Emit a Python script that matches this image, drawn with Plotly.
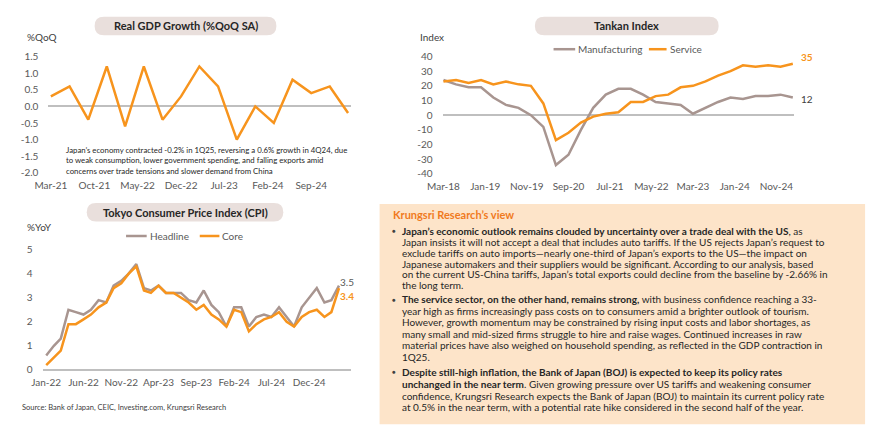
import plotly.graph_objects as go
import pandas as pd

# ---------------- data ----------------
gdp_dates = pd.date_range("2021-03-01", "2025-03-01", freq="3MS").strftime("%Y-%m-%d").tolist()
gdp_qoq = [0.3, 0.6, -0.4, 1.2, -0.6, 1.2, -0.4, 0.3, 1.2, 0.6, -1.0, 0.0, -0.5, 0.8, 0.4, 0.6, -0.2]
gdp_xticks = ["2021-03-01", "2021-10-01", "2022-05-01", "2022-12-01", "2023-07-01", "2024-02-01", "2024-09-01"]
gdp_yticks = [1.5, 1.0, 0.5, 0.0, -0.5, -1.0, -1.5, -2.0]
gdp_yticklabels = ["1.5", "1.0", "0.5", "0.0", "-0.5", "-1.0", "-1.5", "-2.0"]

tankan_dates = pd.date_range("2018-03-01", "2025-03-01", freq="3MS").strftime("%Y-%m-%d").tolist()
tankan_manufacturing = [24, 21, 19, 19, 12, 7, 5, 0, -8, -34, -27, -10, 5, 14, 18, 18, 14, 9, 8, 7,
                        1, 5, 9, 12, 11, 13, 13, 14, 12]
tankan_service = [23, 24, 22, 24, 21, 23, 21, 20, 8, -17, -12, -5, -1, 1, 2, 9, 9, 13, 14, 19,
                  20, 23, 27, 30, 34, 33, 34, 33, 35]
tankan_xticks = ["2018-03-01", "2019-01-01", "2019-11-01", "2020-09-01", "2021-07-01", "2022-05-01",
                 "2023-03-01", "2024-01-01", "2024-11-01"]
tankan_yticks = [40, 30, 20, 10, 0, -10, -20, -30, -40]
tankan_yticklabels = ["40", "30", "20", "10", "0", "-10", "-20", "-30", "-40"]

cpi_dates = pd.date_range("2022-01-01", "2025-04-01", freq="MS").strftime("%Y-%m-%d").tolist()
cpi_headline = [0.6, 1.0, 1.3, 2.5, 2.4, 2.3, 2.5, 2.9, 2.8, 3.5, 3.7, 4.0,
                4.4, 3.4, 3.3, 3.5, 3.2, 3.2, 3.2, 2.9, 2.8, 3.3, 2.7, 2.4,
                1.8, 2.6, 2.6, 1.8, 2.2, 2.3, 2.2, 2.6, 2.2, 1.8, 2.6, 3.0,
                3.4, 2.8, 2.9, 3.5]
cpi_core = [0.2, 0.5, 0.8, 1.9, 1.9, 2.1, 2.3, 2.6, 2.8, 3.4, 3.6, 4.0,
            4.3, 3.3, 3.2, 3.5, 3.2, 3.2, 3.0, 2.8, 2.5, 2.7, 2.3, 2.1,
            1.8, 2.5, 2.4, 1.6, 1.9, 2.1, 2.2, 2.4, 2.0, 1.8, 2.2, 2.4,
            2.5, 2.2, 2.4, 3.4]
cpi_xticks = ["2022-01-01", "2022-06-01", "2022-11-01", "2023-04-01", "2023-09-01", "2024-02-01",
              "2024-07-01", "2024-12-01"]
cpi_yticks = [0, 1, 2, 3, 4, 5]

gdp_note_lines = ["Japan’s economy contracted -0.2% in 1Q25, reversing a 0.6% growth in 4Q24, due",
                  "to weak consumption, lower government spending, and falling exports amid",
                  "concerns over trade tensions and slower demand from China"]
gdp_note_y = [147, 158, 169]

view_title = "Krungsri Research’s view"
view_bullets = [
    ["<b>Japan’s economic outlook remains clouded by uncertainty over a trade deal with the US</b>, as",
     "Japan insists it will not accept a deal that includes auto tariffs. If the US rejects Japan’s request to",
     "exclude tariffs on auto imports—nearly one-third of Japan’s exports to the US—the impact on",
     "Japanese automakers and their suppliers would be significant. According to our analysis, based",
     "on the current US-China tariffs, Japan’s total exports could decline from the baseline by -2.66% in",
     "the long term."],
    ["<b>The service sector, on the other hand, remains strong,</b> with business confidence reaching a 33-",
     "year high as firms increasingly pass costs on to consumers amid a brighter outlook of tourism.",
     "However, growth momentum may be constrained by rising input costs and labor shortages, as",
     "many small and mid-sized firms struggle to hire and raise wages. Continued increases in raw",
     "material prices have also weighed on household spending, as reflected in the GDP contraction in",
     "1Q25."],
    ["<b>Despite still-high inflation, the Bank of Japan (BOJ) is expected to keep its policy rates</b>",
     "<b>unchanged in the near term</b>. Given growing pressure over US tariffs and weakening consumer",
     "confidence, Krungsri Research expects the Bank of Japan (BOJ) to maintain its current policy rate",
     "at 0.5% in the near term, with a potential rate hike considered in the second half of the year."],
]
view_line_y = [[230.5, 242, 253.3, 264.5, 275.5, 286.5],
               [301, 312.8, 324.8, 336.6, 348.4, 360.4],
               [376, 388.2, 400.4, 412.4]]

source_text = "Source: Bank of Japan, CEIC, Investing.com, Krungsri Research"

# ---------------- style ----------------
W, H = 870, 438
FONT = "Lato"
ORANGE = "#f7941d"
GRAY = "#a89590"
TICK = "#595959"
DARK = "#262626"
PILL = "#e9dfdc"
BOX = "#fde4c9"


def px(x):
    return x / W


def py(y):
    return 1 - y / H


def pill_path(x0, y0, x1, y1):
    r = (y1 - y0) / 2
    return (f"M {px(x0 + r)},{py(y0)} L {px(x1 - r)},{py(y0)} "
            f"Q {px(x1)},{py(y0)} {px(x1)},{py(y0 + r)} "
            f"Q {px(x1)},{py(y1)} {px(x1 - r)},{py(y1)} "
            f"L {px(x0 + r)},{py(y1)} "
            f"Q {px(x0)},{py(y1)} {px(x0)},{py(y0 + r)} "
            f"Q {px(x0)},{py(y0)} {px(x0 + r)},{py(y0)} Z")


fig = go.Figure()

fig.add_trace(go.Scatter(x=gdp_dates, y=gdp_qoq, mode="lines", line=dict(color=ORANGE, width=2.5),
                         xaxis="x", yaxis="y", showlegend=False))
fig.add_trace(go.Scatter(x=tankan_dates, y=tankan_manufacturing, mode="lines", line=dict(color=GRAY, width=2.5),
                         xaxis="x2", yaxis="y2", showlegend=False))
fig.add_trace(go.Scatter(x=tankan_dates, y=tankan_service, mode="lines", line=dict(color=ORANGE, width=2.5),
                         xaxis="x2", yaxis="y2", showlegend=False))
fig.add_trace(go.Scatter(x=cpi_dates, y=cpi_headline, mode="lines", line=dict(color=GRAY, width=2.5),
                         xaxis="x3", yaxis="y3", showlegend=False))
fig.add_trace(go.Scatter(x=cpi_dates, y=cpi_core, mode="lines", line=dict(color=ORANGE, width=2.5),
                         xaxis="x3", yaxis="y3", showlegend=False))

tickfont = dict(family=FONT, size=10, color=TICK)
xcommon = dict(type="date", showgrid=False, showline=False, zeroline=False, tickformat="%b-%y",
               tickfont=tickfont, ticks="", ticklabelstandoff=5, fixedrange=True)
ycommon = dict(showgrid=False, showline=False, zeroline=True, zerolinecolor="#bfbfbf", zerolinewidth=1.5,
               tickfont=tickfont, ticks="", ticklabelstandoff=9, fixedrange=True)

fig.update_layout(
    width=W, height=H, margin=dict(l=0, r=0, t=0, b=0),
    paper_bgcolor="white", plot_bgcolor="rgba(0,0,0,0)",
    font=dict(family=FONT, color=DARK),
    xaxis=dict(xcommon, domain=[px(34), px(342)], range=["2021-02-17", "2025-03-16"],
               tickvals=gdp_xticks, anchor="y"),
    yaxis=dict(ycommon, domain=[py(171), py(51)], range=[-2.0, 1.5], tickvals=gdp_yticks,
               ticktext=gdp_yticklabels, anchor="x"),
    xaxis2=dict(xcommon, domain=[px(435), px(793)], range=["2018-02-22", "2025-03-12"],
                tickvals=tankan_xticks, anchor="y2"),
    yaxis2=dict(ycommon, domain=[py(172), py(51)], range=[-40, 40], tickvals=tankan_yticks,
                ticktext=tankan_yticklabels, anchor="x2"),
    xaxis3=dict(xcommon, domain=[px(28), px(342)], range=["2021-12-17", "2025-05-20"],
                tickvals=cpi_xticks, anchor="y3"),
    yaxis3=dict(ycommon, domain=[py(374), py(250)], range=[0, 5], tickvals=cpi_yticks, anchor="x3"),
)

shapes = []
annotations = []

# title pills
for (x0, y0, x1, y1, title) in [(81, 10, 266, 29, "Real GDP Growth (%QoQ SA)"),
                                (529, 10, 716, 29, "Tankan Index"),
                                (73, 202, 273, 221, "Tokyo Consumer Price Index (CPI)")]:
    shapes.append(dict(type="path", path=pill_path(x0, y0, x1, y1), xref="paper", yref="paper",
                       fillcolor=PILL, line=dict(width=0), layer="below"))
    annotations.append(dict(text=f"<b>{title}</b>", x=px((x0 + x1) / 2), y=py((y0 + y1) / 2),
                            xref="paper", yref="paper", showarrow=False, xanchor="center", yanchor="middle",
                            font=dict(family=FONT, size=11, color=DARK)))

# unit labels
for (x, y, t) in [(10, 31, "%QoQ"), (410, 31, "Index"), (10, 227, "%YoY")]:
    annotations.append(dict(text=t, x=px(x), y=py(y), xref="paper", yref="paper", showarrow=False,
                            xanchor="left", yanchor="middle", font=dict(family=FONT, size=10, color="#404040")))

# GDP note
for line, y in zip(gdp_note_lines, gdp_note_y):
    annotations.append(dict(text=line, x=px(51), y=py(y), xref="paper", yref="paper", showarrow=False,
                            xanchor="left", yanchor="middle", align="left", borderpad=0,
                            font=dict(family=FONT, size=7.8, color=DARK)))

# manual legends
for (x0, x1, tx, y, name, col) in [(548, 570, 571, 43.5, "Manufacturing", GRAY),
                                   (645, 663, 664, 43.5, "Service", ORANGE),
                                   (113, 134, 135, 236, "Headline", GRAY),
                                   (188, 208, 209, 236, "Core", ORANGE)]:
    shapes.append(dict(type="line", xref="paper", yref="paper", x0=px(x0), x1=px(x1), y0=py(y), y1=py(y),
                       line=dict(color=col, width=2.5)))
    annotations.append(dict(text=name, x=px(tx), y=py(y), xref="paper", yref="paper", showarrow=False,
                            xanchor="left", yanchor="middle", font=dict(family=FONT, size=10, color=TICK)))

# end labels
annotations.append(dict(text=f"<b>{tankan_service[-1]}</b>", x=tankan_dates[-1], y=tankan_service[-1],
                        xref="x2", yref="y2", showarrow=False, xanchor="left", yanchor="middle",
                        xshift=6, yshift=7, font=dict(family=FONT, size=10, color=ORANGE)))
annotations.append(dict(text=f"{tankan_manufacturing[-1]}", x=tankan_dates[-1], y=tankan_manufacturing[-1],
                        xref="x2", yref="y2", showarrow=False, xanchor="left", yanchor="middle",
                        xshift=6, yshift=-1, font=dict(family=FONT, size=10, color="#404040")))
annotations.append(dict(text=f"{cpi_headline[-1]}", x=cpi_dates[-1], y=cpi_headline[-1],
                        xref="x3", yref="y3", showarrow=False, xanchor="left", yanchor="bottom",
                        xshift=0, yshift=-3, borderpad=0, font=dict(family=FONT, size=10, color=TICK)))
annotations.append(dict(text=f"<b>{cpi_core[-1]}</b>", x=cpi_dates[-1], y=cpi_core[-1],
                        xref="x3", yref="y3", showarrow=False, xanchor="left", yanchor="top",
                        xshift=0, yshift=-1, borderpad=0, font=dict(family=FONT, size=10, color=ORANGE)))

# source
annotations.append(dict(text=source_text, x=px(5), y=py(413), xref="paper", yref="paper", showarrow=False,
                        xanchor="left", yanchor="middle", font=dict(family=FONT, size=7.5, color="#404040")))

# view box
shapes.append(dict(type="rect", xref="paper", yref="paper", x0=px(371), x1=px(865), y0=py(430), y1=py(203),
                   fillcolor=BOX, line=dict(width=0), layer="below"))
annotations.append(dict(text=f"<b>{view_title}</b>", x=px(383), y=py(213.5), xref="paper", yref="paper",
                        showarrow=False, xanchor="left", yanchor="middle",
                        font=dict(family=FONT, size=11, color="#f07a1e")))
for lines, ys in zip(view_bullets, view_line_y):
    annotations.append(dict(text="●", x=px(382), y=py(ys[0]), xref="paper", yref="paper", showarrow=False,
                            xanchor="left", yanchor="middle", font=dict(family=FONT, size=6, color="#404040")))
    for line, y in zip(lines, ys):
        annotations.append(dict(text=line, x=px(393), y=py(y), xref="paper", yref="paper", showarrow=False,
                                xanchor="left", yanchor="middle", align="left", borderpad=0,
                                font=dict(family=FONT, size=10, color=DARK)))

fig.update_layout(shapes=shapes, annotations=annotations)
fig.write_html("out.html", config={"displayModeBar": False},
               post_script="document.body.style.margin='0px';")
